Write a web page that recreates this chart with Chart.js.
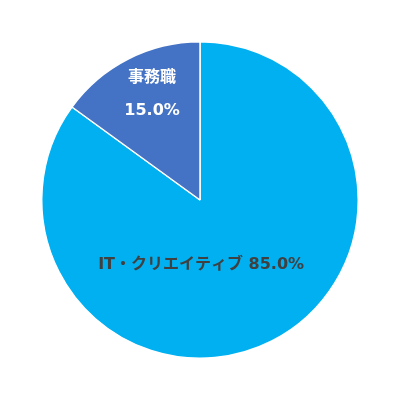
<!DOCTYPE html>
<html>
<head>
<meta charset="utf-8">
<script src="https://cdn.jsdelivr.net/npm/chart.js@4"></script>
<style>
html,body{margin:0;padding:0;background:#fff;}
#wrap{width:400px;height:400px;}
</style>
</head>
<body>
<div id="wrap"><canvas id="c" width="400" height="400"></canvas></div>
<script>
const labels = ["IT・クリエイティブ", "事務職"];
const values = [85.0, 15.0];
const colors = ["#00B0F0", "#4472C4"];

/* label drawing: angle offset (deg) and radius fraction per slice */
const labelPlugin = {
  id: "sliceLabels",
  afterDatasetsDraw(chart, args, opts){
    let ctx = chart.ctx;
    let meta = chart.getDatasetMeta(0);
    ctx.save();
    ctx.textAlign = "center";
    ctx.textBaseline = "middle";
    ctx.font = "bold 16px 'DejaVu Sans', 'Noto Sans CJK JP', sans-serif";
    meta.data.forEach((arc, i) => {
      let p = arc.getProps(["x","y","startAngle","endAngle","outerRadius"], true);
      let a = (p.startAngle + p.endAngle) / 2 + opts.shift[i] * Math.PI / 180;
      let r = p.outerRadius * opts.frac[i];
      let x = p.x + Math.cos(a) * r;
      let y = p.y + Math.sin(a) * r;
      let txt = values[i].toFixed(1) + "%";
      ctx.fillStyle = opts.color[i];
      if(opts.split[i]){
        ctx.fillText(labels[i], x, y - 17);
        ctx.fillText(txt, x, y + 16);
      } else {
        ctx.fillText(labels[i] + " " + txt, x, y);
      }
    });
    ctx.restore();
  }
};

new Chart(document.getElementById("c"), {
  type: "pie",
  data: {
    labels: labels,
    datasets: [{
      data: values,
      backgroundColor: colors,
      borderColor: "#ffffff",
      borderWidth: 1.5
    }]
  },
  options: {
    responsive: false,
    animation: false,
    layout: { padding: 41 },
    plugins: {
      legend: { display: false },
      tooltip: { enabled: false },
      sliceLabels: {
        frac: [0.41, 0.73],
        shift: [26, 2.5],
        split: [false, true],
        color: ["#404040", "#ffffff"]
      }
    }
  },
  plugins: [labelPlugin]
});
</script>
</body>
</html>
